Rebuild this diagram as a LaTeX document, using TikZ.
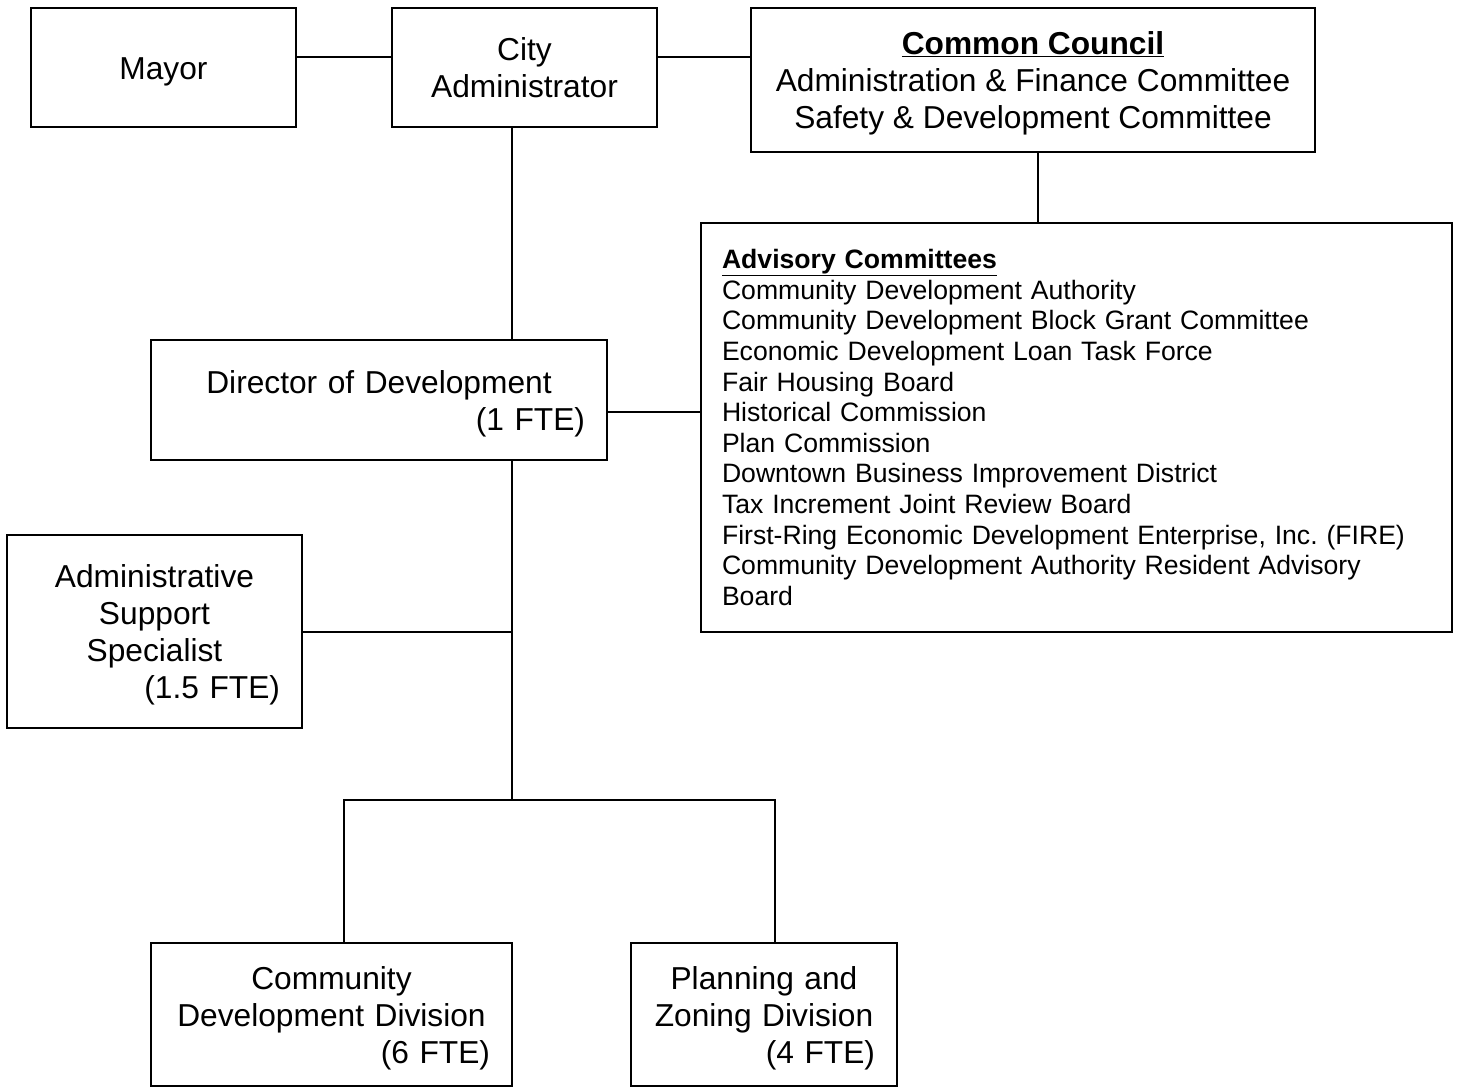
\documentclass[tikz,border=0pt]{standalone}
\usepackage{fontspec}
\setmainfont{Liberation Sans}
\frenchspacing
\begin{document}
\begin{tikzpicture}[x=1pt,y=-1pt,
  box/.style={draw=black,line width=2pt,inner sep=0pt,rectangle,
    font=\fontsize{31.7pt}{37pt}\selectfont,align=center},
  rbox/.style={draw=black,line width=2pt,inner ysep=0pt,inner xsep=22pt,rectangle,
    font=\fontsize{31.7pt}{37pt}\selectfont,align=center},
  link/.style={line width=2pt,line join=miter}]
\useasboundingbox (0,0) rectangle (1460,1088);
\newcommand{\sx}{\rule[-7pt]{0pt}{37pt}}
\newcommand{\sa}{\rule[-5.8pt]{0pt}{30.6pt}}
\newcommand{\rline}[1]{\\\sx\hspace*{0pt plus 1filll}#1}

\node[box,minimum width=265pt,minimum height=119pt] (Mayor) at (163.5,67.5) {\sx Mayor};
\node[box,minimum width=265pt,minimum height=119pt] (City) at (524.5,67.5) {\sx City\\\sx Administrator};
\node[box,minimum width=564pt,minimum height=144pt] (Council) at (1033,80)
  {\sx\underline{\textbf{Common Council}}\\\sx Administration \& Finance Committee\\\sx Safety \& Development Committee};
\node[draw=black,line width=2pt,rectangle,inner ysep=0pt,inner xsep=21pt,
  text width=709pt,minimum height=409pt,align=left,
  font=\fontsize{26.6pt}{30.6pt}\selectfont] (Advisory) at (1076.5,427.5)
  {\sa\underline{\textbf{Advisory Committees}}\\
   Community Development Authority\\
   Community Development Block Grant Committee\\
   Economic Development Loan Task Force\\
   Fair Housing Board\\
   Historical Commission\\
   Plan Commission\\
   Downtown Business Improvement District\\
   Tax Increment Joint Review Board\\
   First-Ring Economic Development Enterprise, Inc. (FIRE)\\
   Community Development Authority Resident Advisory\\
   \sa Board};
\node[rbox,text width=412pt,minimum height=120pt] (Director) at (379,400)
  {\sx Director of Development\rline{(1 FTE)}};
\node[rbox,text width=251pt,minimum height=193pt] (Admin) at (154.5,631.5)
  {\sx Administrative\\\sx Support\\\sx Specialist\rline{(1.5 FTE)}};
\node[rbox,text width=317pt,minimum height=143pt] (CommDev) at (331.5,1014.5)
  {\sx Community\\\sx Development Division\rline{(6 FTE)}};
\node[rbox,text width=222pt,minimum height=143pt] (Planning) at (764,1014.5)
  {\sx Planning and\\\sx Zoning Division\rline{(4 FTE)}};

\coordinate (topY) at (0,57);
\coordinate (vx) at (512,0);
\coordinate (cx) at (1038,0);
\coordinate (dy) at (0,412);
\coordinate (j) at (512,800);
\coordinate (jl) at (344,800);
\coordinate (jr) at (775,800);

\draw[link] (Mayor.east |- topY) -- (City.west |- topY);
\draw[link] (City.east |- topY) -- (Council.west |- topY);
\draw[link] (City.south -| vx) -- (Director.north -| vx);
\draw[link] (Council.south -| cx) -- (Advisory.north -| cx);
\draw[link] (Director.east |- dy) -- (Advisory.west |- dy);
\draw[link] (Director.south -| vx) -- (j);
\draw[link] (Admin.east) -- (Admin.east -| vx);
\draw[link] (CommDev.north -| jl) |- (jr) -- (Planning.north -| jr);
\end{tikzpicture}
\end{document}
